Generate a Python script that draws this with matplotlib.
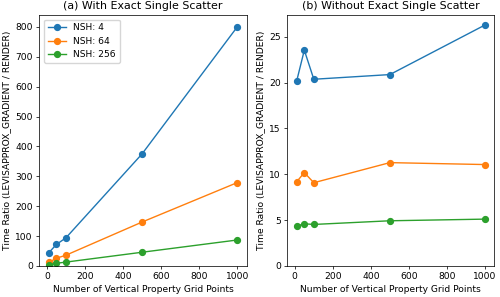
import numpy as np
import matplotlib.pyplot as plt

npts = [10, 50, 100, 500, 1000]
labels = ['NSH: 4', 'NSH: 64', 'NSH: 256']

# (a) with exact single scatter
ratio_ss = [
    [44, 72, 94, 375, 800],
    [12, 26, 36, 147, 279],
    [4.5, 9, 13, 46, 87],
]

# (b) without exact single scatter
ratio_noss = [
    [20.18, 23.53, 20.36, 20.87, 26.27],
    [9.19, 10.18, 9.08, 11.27, 11.06],
    [4.35, 4.6, 4.53, 4.93, 5.11],
]

s = 0.66  # original figure was drawn larger and scaled down
fig = plt.figure(figsize=(5, 2.97), dpi=100)
ax1 = fig.add_axes([0.0786, 0.1044, 0.4148, 0.8451])
ax2 = fig.add_axes([0.5746, 0.1044, 0.4140, 0.8451])
axs = [ax1, ax2]

for vals, lab in zip(ratio_ss, labels):
    ax1.plot(npts, vals, '-o', label=lab, markersize=4.2, linewidth=1.0)
for vals, lab in zip(ratio_noss, labels):
    ax2.plot(npts, vals, '-o', label=lab, markersize=4.2, linewidth=1.0)

ax1.set_title('(a) With Exact Single Scatter', fontsize=12 * s, pad=6 * s)
ax2.set_title('(b) Without Exact Single Scatter', fontsize=12 * s, pad=6 * s)
ax1.legend(loc='upper left', fontsize=10 * s, borderpad=0.4, handlelength=2.0,
           borderaxespad=0.5)

for ax in axs:
    ax.set_ylim(bottom=0)
    ax.set_xlabel('Number of Vertical Property Grid Points', fontsize=10 * s, labelpad=4 * s)
    ax.set_ylabel('Time Ratio (LEVISAPPROX_GRADIENT / RENDER)', fontsize=10 * s, labelpad=4 * s)
    ax.tick_params(labelsize=10 * s, width=0.8 * s, length=3.5 * s, pad=3.5 * s)
    for sp in ax.spines.values():
        sp.set_linewidth(0.8 * s)

plt.savefig('out.png')
